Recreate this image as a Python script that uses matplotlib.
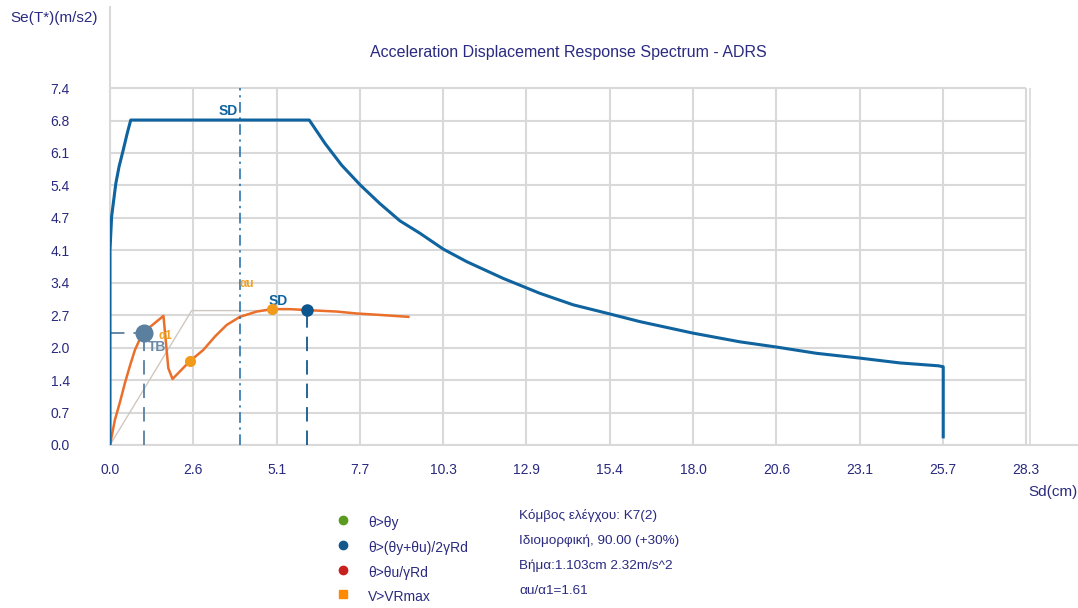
import matplotlib.pyplot as plt

plt.rcParams['font.family'] = ['Liberation Sans', 'DejaVu Sans']

# ADRS spectrum (blue)
spec_sd = [0.0, 0.0, 0.0, 0.05, 0.18, 0.28, 0.41, 0.53, 0.64, 6.15, 6.64, 7.15, 7.72,
           8.33, 8.95, 9.57, 10.29, 11.01, 12.14, 13.27, 14.3, 15.43, 16.36, 18.0,
           19.44, 20.58, 21.81, 23.15, 24.38, 25.57, 25.72, 25.72]
spec_se = [0.0, 3.875, 4.06, 4.76, 5.45, 5.8, 6.15, 6.49, 6.77, 6.77, 6.28, 5.83, 5.42,
           5.03, 4.67, 4.41, 4.08, 3.82, 3.47, 3.16, 2.92, 2.73, 2.57, 2.33,
           2.15, 2.04, 1.91, 1.81, 1.71, 1.65, 1.63, 0.17]

# capacity curve (orange)
cap_sd = [0.0, 0.15, 0.31, 0.46, 0.62, 0.77, 0.93, 1.13, 1.65, 1.80, 1.93, 2.47, 2.88,
          3.24, 3.60, 4.01, 4.53, 4.99, 5.56, 6.09, 7.0, 7.61, 8.33, 9.21]
cap_se = [0.0, 0.52, 0.90, 1.29, 1.66, 1.98, 2.22, 2.40, 2.69, 1.60, 1.375, 1.75, 1.98,
          2.26, 2.50, 2.67, 2.78, 2.83, 2.83, 2.81, 2.78, 2.74, 2.71, 2.67]

# bilinear idealisation (grey)
bil_sd = [0.0, 2.52, 5.0]
bil_se = [0.0, 2.80, 2.80]

tb_sd, tb_se = 1.05, 2.33
sd_sd, sd_se = 6.09, 2.81
perf_sd = [2.47, 4.99]
perf_se = [1.75, 2.83]
sd_prime = 4.01

x_ticks = [0.0, 2.571, 5.142, 7.713, 10.284, 12.855, 15.426, 17.997, 20.568, 23.139, 25.71, 28.281]
x_labels = ['0.0', '2.6', '5.1', '7.7', '10.3', '12.9', '15.4', '18.0', '20.6', '23.1', '25.7', '28.3']
y_ticks = [0.0, 0.676, 1.352, 2.028, 2.704, 3.38, 4.056, 4.732, 5.408, 6.084, 6.76, 7.436]
y_labels = ['0.0', '0.7', '1.4', '2.0', '2.7', '3.4', '4.1', '4.7', '5.4', '6.1', '6.8', '7.4']

legend_labels = ['θ>θy', 'θ>(θy+θu)/2γRd', 'θ>θu/γRd', 'V>VRmax']
legend_colors = ['#5a9a1e', '#12588c', '#c8201e', '#ff8a00']
legend_markers = ['o', 'o', 'o', 's']
info_lines = ['Κόμβος ελέγχου: K7(2)', 'Ιδιομορφική, 90.00 (+30%)',
              'Βήμα:1.103cm 2.32m/s^2', 'αu/α1=1.61']

txt = '#2a2a80'
blue = '#0f639e'
orange = '#ea6f2a'

fig = plt.figure(figsize=(10.78, 6.08), dpi=100)
ax = fig.add_axes([110 / 1078, 1 - 445 / 608, 968 / 1078, 438 / 608])
ax.set_xlim(0, 29.88)
ax.set_ylim(0, 9.125)

grid_c = '#d9d9d9'
ax.hlines(y_ticks, 0, x_ticks[-1], color=grid_c, lw=1.5, zorder=1)
ax.vlines(x_ticks, 0, y_ticks[-1], color=grid_c, lw=1.5, zorder=1)
ax.vlines([28.4], 0, y_ticks[-1], color=grid_c, lw=1.2, zorder=1)

for s in ['top', 'right']:
    ax.spines[s].set_visible(False)
ax.spines['left'].set_color(grid_c)
ax.spines['bottom'].set_color(grid_c)
ax.spines['left'].set_linewidth(1.5)
ax.spines['bottom'].set_linewidth(1.5)

ax.set_xticks(x_ticks, x_labels)
ax.set_yticks(y_ticks, y_labels)
ax.tick_params(axis='both', length=0, labelsize=10, labelcolor=txt)
ax.tick_params(axis='x', pad=13)
ax.tick_params(axis='y', pad=29)

# bilinear
ax.plot(bil_sd, bil_se, color='#cfc8c0', lw=1.0, zorder=2)

# spectrum
ax.plot(spec_sd, spec_se, color=blue, lw=2.2, zorder=4)

# capacity curve
ax.plot(cap_sd, cap_se, color=orange, lw=1.8, zorder=3)

# SD' dash-dot line
ax.plot([sd_prime, sd_prime], [0, y_ticks[-1]], color='#1a6aa8', lw=1.1,
        linestyle=(0, (7, 3, 1.5, 3)), zorder=3)
ax.text(sd_prime - 0.05, 6.96, 'SD', color=blue, fontsize=10, fontweight='bold',
        ha='right', va='center', zorder=6)

# TB point
tb_c = '#5a7f9f'
ax.plot([0, tb_sd], [tb_se, tb_se], color=tb_c, lw=1.3, linestyle=(0, (8, 5)), zorder=3)
ax.plot([tb_sd, tb_sd], [0, tb_se], color=tb_c, lw=1.3, linestyle=(0, (8, 5)), zorder=3)
ax.plot([tb_sd], [tb_se], 'o', color=tb_c, markersize=12, zorder=6)
ax.text(1.45, 2.04, 'TB', color='#6a8aa8', fontsize=10,
        fontweight='bold', ha='center', va='center', zorder=6)
ax.text(1.72, 2.28, 'α1', color='#f0a020', fontsize=8.5,
        fontweight='bold', ha='center', va='center', zorder=6)

# SD point
ax.plot([sd_sd, sd_sd], [0, sd_se], color='#12588c', lw=1.3, linestyle=(0, (8, 5)), zorder=3)
ax.plot([sd_sd], [sd_se], 'o', color='#0c5690', markersize=8, zorder=6)
ax.text(5.2, 2.99, 'SD', color=blue, fontsize=10, fontweight='bold',
        ha='center', va='center', zorder=6)
ax.text(4.22, 3.35, 'αu', color='#f0a020', fontsize=8.5, fontweight='bold',
        ha='center', va='center', zorder=6)

ax.plot(perf_sd, perf_se, 'o', color='#f29a1a', markersize=7, zorder=6, linestyle='none')

# texts
fig.text(10 / 1078, 1 - 18 / 608, 'Se(T*)(m/s2)', color=txt, fontsize=11, ha='left', va='center')
fig.text(568 / 1078, 1 - 52 / 608, 'Acceleration Displacement Response Spectrum - ADRS',
         color=txt, fontsize=11.5, ha='center', va='center')
fig.text(1028 / 1078, 1 - 492 / 608, 'Sd(cm)', color=txt, fontsize=11, ha='left', va='center')

leg_y = [520, 545, 570, 594]
for yy, lab, c, m in zip(leg_y, legend_labels, legend_colors, legend_markers):
    fig.lines.append(plt.Line2D([343 / 1078], [1 - yy / 608], marker=m, color=c,
                                markersize=6, linestyle='none', transform=fig.transFigure))
    fig.text(368 / 1078, 1 - (yy + 3) / 608, lab, color=txt, fontsize=10, ha='left', va='center')

info_y = [516, 541, 566, 591]
for yy, line in zip(info_y, info_lines):
    fig.text(519 / 1078, 1 - yy / 608, line, color=txt, fontsize=9.7, ha='left', va='center')

fig.savefig('out.png', dpi=100)
